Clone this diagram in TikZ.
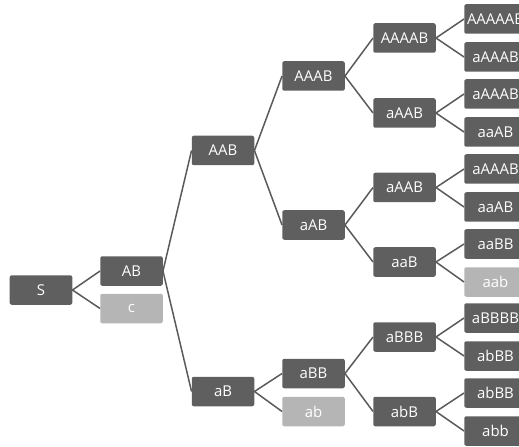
\documentclass[tikz,border=0pt]{standalone}
\usepackage{fontspec}
\setmainfont{Open Sans}
\definecolor{boxdark}{HTML}{5F5F5F}
\definecolor{boxlight}{HTML}{B5B5B5}
\definecolor{edgecol}{HTML}{5A5A5A}
\begin{document}
\begin{tikzpicture}[x=1bp,y=-1bp,
  bx/.style={fill=boxdark,text=white,rounded corners=2bp,minimum width=62.5bp,minimum height=29.5bp,inner sep=0pt,font=\fontsize{15}{17}\selectfont},
  lt/.style={bx,fill=boxlight},
  ed/.style={draw=edgecol,line width=1.5bp}]
\useasboundingbox (0,0) rectangle (519,447);
% column 0-2
\node[bx] (S) at (41,290) {S};
\node[bx] (AB) at (131.5,271) {AB};
\node[lt] (c) at (131.5,308.5) {c};
\node[bx] (AAB) at (223,150.5) {AAB};
\node[bx] (aB) at (223,391.5) {aB};
% column 3
\node[bx] (AAAB) at (313.5,76) {AAAB};
\node[bx] (aAB) at (313.5,225) {aAB};
\node[bx] (aBB) at (313.5,373.5) {aBB};
\node[lt] (ab) at (313.5,411.5) {ab};
% column 4
\node[bx] (AAAAB) at (404.5,38) {AAAAB};
\node[bx] (aAAB1) at (404.5,113) {aAAB};
\node[bx] (aAAB2) at (404.5,187.5) {aAAB};
\node[bx] (aaB) at (404.5,262) {aaB};
\node[bx] (aBBB) at (404.5,337) {aBBB};
\node[bx] (abB) at (404.5,411.5) {abB};
% column 5
\node[bx] (l1) at (495.5,19) {AAAAAB};
\node[bx] (l2) at (495.5,57) {aAAAB};
\node[bx] (l3) at (495.5,94) {aAAAB};
\node[bx] (l4) at (495.5,132) {aaAB};
\node[bx] (l5) at (495.5,169) {aAAAB};
\node[bx] (l6) at (495.5,207) {aaAB};
\node[bx] (l7) at (495.5,244) {aaBB};
\node[lt] (l8) at (495.5,282) {aab};
\node[bx] (l9) at (495.5,318) {aBBBB};
\node[bx] (l10) at (495.5,356) {abBB};
\node[bx] (l11) at (495.5,393) {abBB};
\node[bx] (l12) at (495.5,431) {abb};
% edges
\foreach \p/\a/\b in {S/AB/c, AB/AAB/aB, AAB/AAAB/aAB, aB/aBB/ab,
  AAAB/AAAAB/aAAB1, aAB/aAAB2/aaB, aBB/aBBB/abB,
  AAAAB/l1/l2, aAAB1/l3/l4, aAAB2/l5/l6, aaB/l7/l8, aBBB/l9/l10, abB/l11/l12}
  {\draw[ed] (\a.west) -- (\p.east) -- (\b.west);}
\end{tikzpicture}
\end{document}
